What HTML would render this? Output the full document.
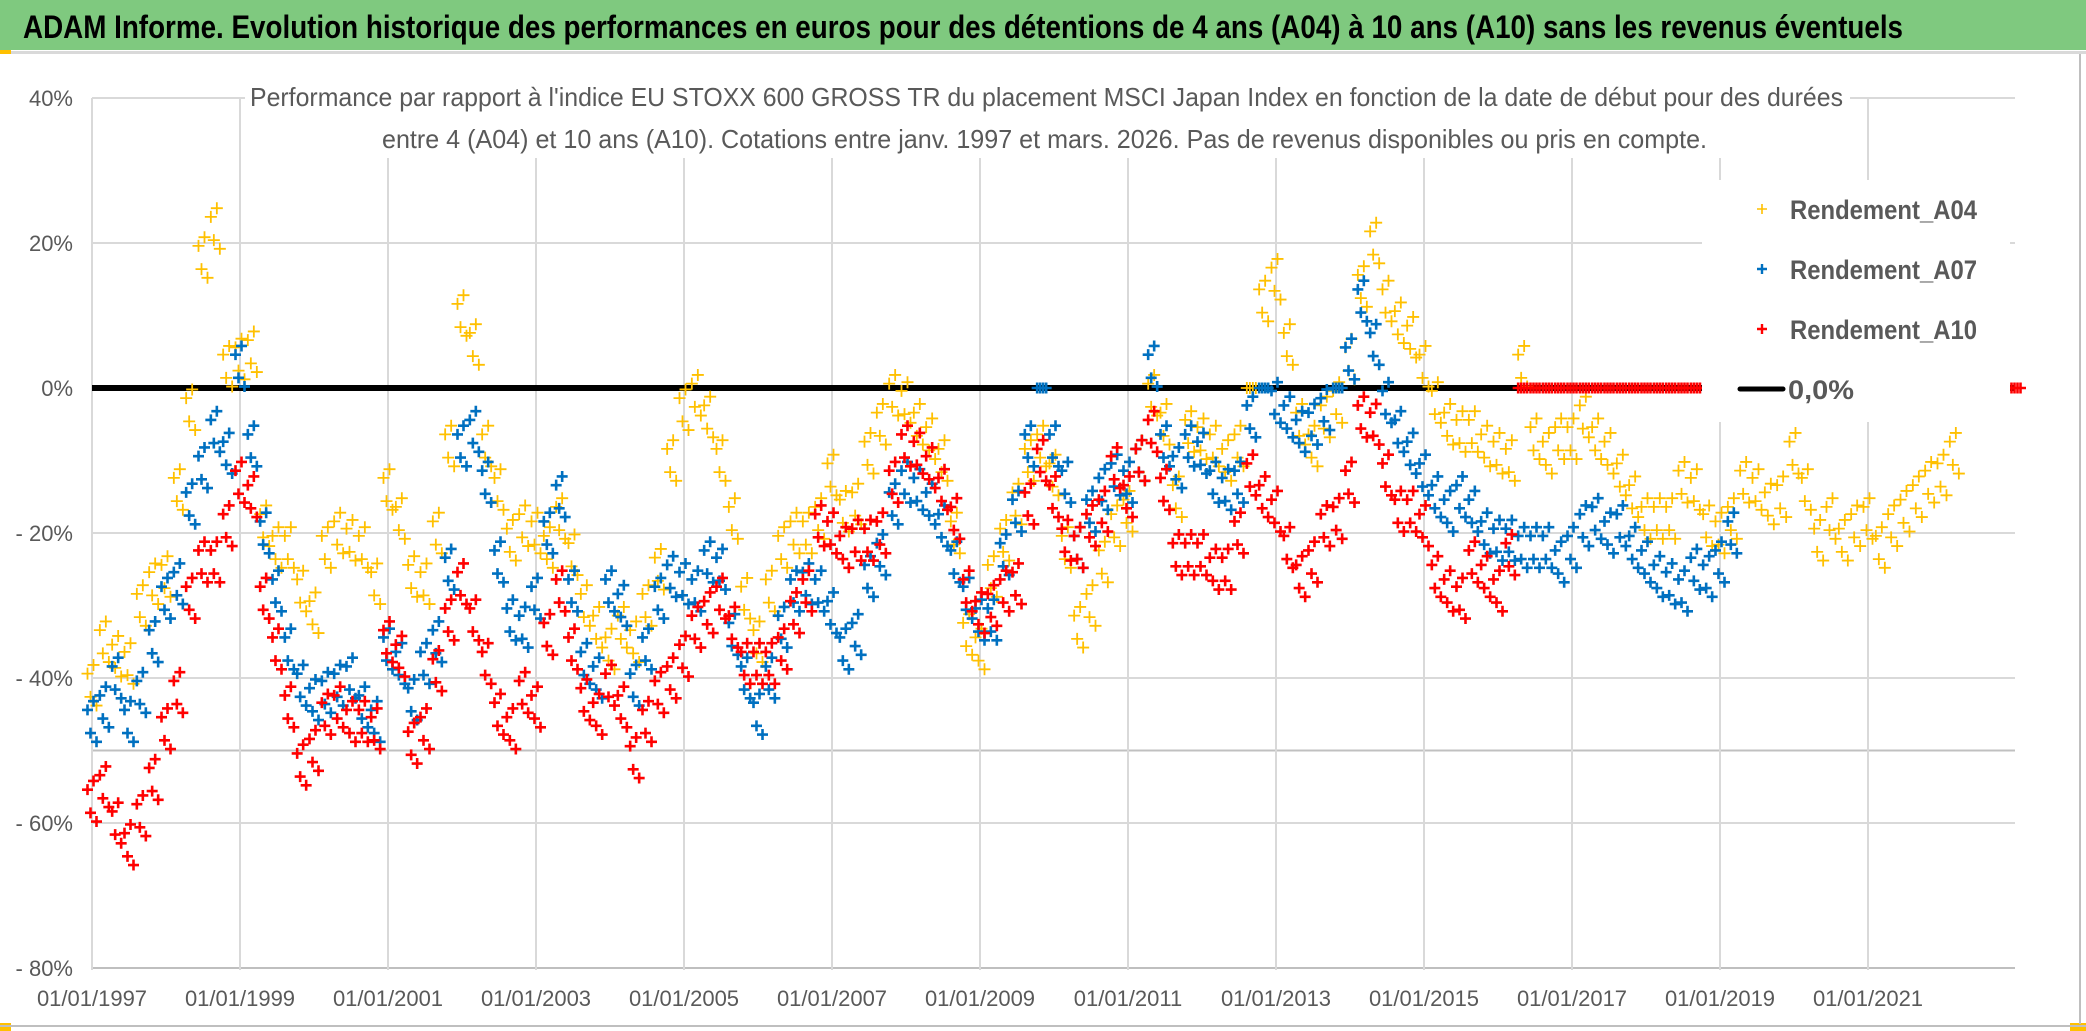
<!DOCTYPE html>
<html lang="fr">
<head>
<meta charset="utf-8">
<title>ADAM Informe – MSCI Japan vs EU STOXX 600</title>
<style>
  html,body{margin:0;padding:0;background:#fff;}
  body{width:2086px;height:1031px;overflow:hidden;}
  svg{display:block;}
  .t{font-family:"Liberation Sans Narrow","Liberation Sans",sans-serif;}
</style>
</head>
<body>
<svg id="chart" width="2086" height="1031" viewBox="0 0 2086 1031" xmlns="http://www.w3.org/2000/svg">
  <rect x="0" y="0" width="2086" height="1031" fill="#ffffff"/>
  <rect x="0" y="0" width="2086" height="50" fill="#7fc97f"/>
  <text class="t" x="23" y="38" font-size="32" font-weight="bold" fill="#000" textLength="1880" lengthAdjust="spacingAndGlyphs">ADAM Informe. Evolution historique des performances en euros pour des détentions de 4 ans (A04) à 10 ans (A10) sans les revenus éventuels</text>
  <rect x="0" y="51" width="2086" height="3" fill="#d9d9d9"/>
  <rect x="0" y="50" width="11" height="4" fill="#ffc000"/>
  <rect x="0" y="1023" width="11" height="8" fill="#ffc000"/>
  <rect x="2070" y="1023" width="16" height="8" fill="#ffc000"/>
  <rect x="2079" y="54" width="2" height="970" fill="#bfbfbf"/>
  <rect x="0" y="1025" width="2086" height="2" fill="#bfbfbf"/>
  <g id="grid"></g>
  <g id="ylabels"></g>
  <g id="xlabels"></g>
  <rect x="245" y="62" width="1605" height="96" fill="#ffffff"/>
  <text class="t" x="250" y="106" font-size="26" fill="#595959" textLength="1593" lengthAdjust="spacingAndGlyphs">Performance par rapport à l'indice EU STOXX 600 GROSS TR  du placement MSCI Japan Index en fonction de la date de début pour des durées</text>
  <text class="t" x="382" y="148" font-size="26" fill="#595959" textLength="1325" lengthAdjust="spacingAndGlyphs">entre 4 (A04) et 10 ans (A10). Cotations entre janv. 1997 et mars. 2026. Pas de revenus disponibles ou pris en compte.</text>
  <g id="zeroline"></g>
  <g id="s04"></g>
  <g id="s07"></g>
  <g id="s10"></g>
  <g>
    <rect x="1702" y="180" width="308" height="242" fill="#ffffff"/>
    <g>
      <path d="M1757 209H1767M1762 204V214" stroke="#ffc000" stroke-width="1.6"/>
      <text class="t" x="1790" y="219" font-size="27" font-weight="bold" fill="#595959" textLength="187" lengthAdjust="spacingAndGlyphs">Rendement_A04</text>
    </g>
    <g>
      <path d="M1757 269H1767M1762 264V274" stroke="#0070c0" stroke-width="2.4"/>
      <text class="t" x="1790" y="279" font-size="27" font-weight="bold" fill="#595959" textLength="187" lengthAdjust="spacingAndGlyphs">Rendement_A07</text>
    </g>
    <g>
      <path d="M1757 329H1767M1762 324V334" stroke="#ff0000" stroke-width="2.4"/>
      <text class="t" x="1790" y="339" font-size="27" font-weight="bold" fill="#595959" textLength="187" lengthAdjust="spacingAndGlyphs">Rendement_A10</text>
    </g>
    <g>
      <line x1="1740" y1="389" x2="1783" y2="389" stroke="#000" stroke-width="5" stroke-linecap="round"/>
      <text class="t" x="1788" y="399" font-size="27" font-weight="bold" fill="#595959" textLength="66" lengthAdjust="spacingAndGlyphs">0,0%</text>
    </g>
  </g>
</svg>
<script>
// ---- chart data ----
const startYear = 1997;
const stepYears = 1/6;
const yTicks = [40, 20, 0, -20, -40, -60, -80];
const yTickLabels = ["40%", "20%", "0%", "- 20%", "- 40%", "- 60%", "- 80%"];
const xTickYears = [1997, 1999, 2001, 2003, 2005, 2007, 2009, 2011, 2013, 2015, 2017, 2019, 2021];
const xTickLabels = ["01/01/1997","01/01/1999","01/01/2001","01/01/2003","01/01/2005","01/01/2007","01/01/2009","01/01/2011","01/01/2013","01/01/2015","01/01/2017","01/01/2019","01/01/2021"];
const extraLineValue = -50;
const zeroLineValue = 0;
const rendementA04 = [
-41,-35,-37,-38,-30,-27,-26,-14,-3,18,22,3,4,5,-19,-22,-22,-28,-31,-22,
-20,-21,-22,-27,-14,-18,-26,-27,-20,-8,10,6,-8,-14,-21,-19,-20,-22,-18,-23,
-30,-33,-36,
-33,-35,-30,-25,-10,-3,-1,-4,-10,-18,-29,-35,-28,-22,-20,-20,-18,-12,-17,-16,
-9,-5,-1,-2,-5,-7,-10,-20,-34,-36,-26,-21,-16,-10,-8,-12,-22,-33,-30,-24,-19,
-17,-10,-1,-5,-15,-6,-7,-8,-10,-8,0,12,15,6,-5,-8,-4,-2,4,14,
20,12,9,7,3,-2,-5,-6,-6,-8,-9,-10,3,-7,-9,-7,-7,-4,-7,-9,-12,
-15,-18,-18,-18,-13,-14,-19,-20,-18,-13,-14,-16,-15,-9,-14,-21,-18,-21,-19,-18,
-22,-19,-17,-15,-13,-12,-9
];
const rendementA07 = [
-46,-44,-40,-46,-42,-35,-29,-27,-16,-11,-6,-9,3,-8,-20,-28,-36,-41,-43,-42,
-41,-40,-44,-46,-36,-38,-43,-38,-35,-25,-8,-6,-13,-24,-32,-33,-29,-20,-15,-28,
-38,-40,-28,
-30,-41,-36,-29,-26,-27,-28,-24,-25,-34,-40,-45,-40,-33,-28,-27,-28,-31,-36,-34,
-26,-23,-16,-13,-14,-16,-19,-24,-29,-32,-32,-23,-17,-8,0,-8,-13,-22,-17,-14,-12,
-13,-10,3,-8,-11,-8,-9,-13,-14,-13,-4,0,-2,-4,-6,-5,-3,0,4,12,
6,-2,-6,-9,-12,-15,-17,-15,-17,-20,-21,-21,-22,-22,-22,-24,-22,-19,-18,-20,-19,
-22,-24,-26,-27,-28,-25,-26,-24,-20
];
const rendementA10 = [
-57,-55,-60,-63,-59,-54,-47,-42,-29,-24,-24,-19,-13,-15,-29,-36,-44,-52,-50,-45,
-44,-46,-46,-47,-35,-37,-49,-47,-39,-32,-27,-32,-38,-45,-47,-42,-44,-34,-28,-36,
-43,-45,-41,
-44,-51,-46,-42,-40,-37,-33,-31,-29,-33,-38,-38,-38,-36,-31,-28,-19,-20,-22,-21,
-21,-20,-13,-8,-9,-11,-14,-18,-28,-31,-30,-28,-27,-16,-10,-15,-21,-22,-19,-17,-11,
-15,-10,-6,-14,-23,-23,-23,-25,-25,-20,-12,-15,-17,-22,-26,-24,-19,-18,-13,-4,
-5,-12,-17,-17,-19,-26,-28,-29,-24,-26,-28,-23,
0,0,0,0,0,0,0,0,0,0,0,0,0,0,0,0,0,0,0,0,
0,0,0,0,0,0,0,0,0,0,0,0,0,0,0,0,0,0,0,0,0
];

// ---- axes ----
const PLOT_LEFT = 92, PLOT_RIGHT = 2015, PLOT_TOP = 98, PLOT_BOTTOM = 970;
function xScale(year){ return PLOT_LEFT + (year - 1997) * 74; }
function yScale(p){ return 388 - p * 7.25; }
const NS = "http://www.w3.org/2000/svg";
function mk(tag, attrs, parent){
  const e = document.createElementNS(NS, tag);
  for (const k in attrs) e.setAttribute(k, attrs[k]);
  parent.appendChild(e);
  return e;
}

const grid = document.getElementById('grid');
yTicks.forEach(function(v, i){
  const y = yScale(v);
  const l = mk('line', {x1: PLOT_LEFT, x2: PLOT_RIGHT, y1: y, y2: y, stroke: (v === -80 ? '#bfbfbf' : '#d9d9d9'), 'stroke-width': 2}, grid);
  
  
});
{
  const y = yScale(extraLineValue);
  const l = mk('line', {x1: PLOT_LEFT, x2: PLOT_RIGHT, y1: y, y2: y, stroke: '#c0c0c0', 'stroke-width': 2}, grid);
  
  
}
xTickYears.forEach(function(yr){
  const x = xScale(yr);
  const l = mk('line', {x1: x, x2: x, y1: PLOT_TOP, y2: PLOT_BOTTOM, stroke: '#d9d9d9', 'stroke-width': 2}, grid);
  
  
});

const yl = document.getElementById('ylabels');
yTicks.forEach(function(v, i){
  const t = mk('text', {x: 73, y: yScale(v) + 8, 'text-anchor': 'end', 'font-size': 22, fill: '#595959', 'class': 't'}, yl);
  t.textContent = yTickLabels[i];
  
  
});
const xl = document.getElementById('xlabels');
xTickYears.forEach(function(yr, i){
  const t = mk('text', {x: xScale(yr), y: 1006, 'text-anchor': 'middle', 'font-size': 22, fill: '#595959', 'class': 't'}, xl);
  t.textContent = xTickLabels[i];
  
  
});

// zero line
{
  const g = document.getElementById('zeroline');
  const y = yScale(zeroLineValue);
  const l = mk('line', {x1: PLOT_LEFT, x2: PLOT_RIGHT, y1: y, y2: y, stroke: '#000', 'stroke-width': 6}, g);
  
  
}

// each value is drawn as a small cluster of "+" markers (daily quotes spread)
const clusterDx = [-4.5, -1.5, 1.5, 4.5];
const clusterDy = [1.6, -1.6, 2.8, -2.8];
function drawSeries(id, values, color, sw, half, name){
  const g = document.getElementById(id);
  values.forEach(function(v, i){
    const x0 = xScale(startYear + i * stepYears);
    let d = '';
    clusterDx.forEach(function(dx, k){
      const x = x0 + dx;
      const y = yScale(v === 0 ? v : v + clusterDy[k]);
      d += 'M' + (x - half) + ' ' + y + 'H' + (x + half) + 'M' + x + ' ' + (y - half) + 'V' + (y + half);
    });
    const p = mk('path', {d: d, stroke: color, 'stroke-width': sw, fill: 'none'}, g);
    
    
  });
}
drawSeries('s04', rendementA04, '#ffc000', 1.8, 6, 'point-a04');
drawSeries('s07', rendementA07, '#0070c0', 2.6, 5.5, 'point-a07');
drawSeries('s10', rendementA10, '#ff0000', 2.6, 5.5, 'point-a10');
</script>
</body>
</html>
